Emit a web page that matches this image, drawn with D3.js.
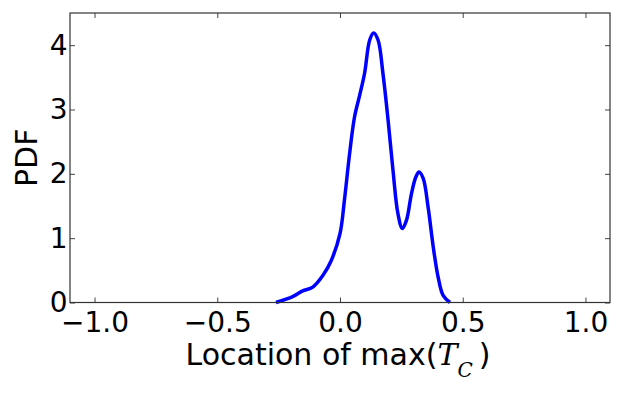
<!DOCTYPE html>
<html><head><meta charset="utf-8">
<script src="https://cdn.jsdelivr.net/npm/d3@7"></script>
<style>body{margin:0;background:#fff}</style>
</head><body>
<svg id="c" width="623" height="393"></svg>
<script>
const xs = [-0.261,-0.193,-0.152,-0.111,-0.070,-0.036,0.0,0.018,0.039,0.059,0.080,0.100,0.121,0.137,0.155,0.175,0.196,0.216,0.236,0.254,0.271,0.291,0.309,0.322,0.339,0.359,0.380,0.400,0.420,0.448];
const pdf = [0,0.09,0.18,0.24,0.42,0.65,1.07,1.59,2.31,2.88,3.22,3.56,4.08,4.19,4.08,3.56,2.83,2.05,1.38,1.15,1.28,1.69,1.95,2.03,1.93,1.48,0.86,0.39,0.11,0];
const xTicks = [-1.0,-0.5,0.0,0.5,1.0];
const yTicks = [0,1,2,3,4];

const svg = d3.select("#c");
const L=70, R=610, T=13, B=302.5;
const x = d3.scaleLinear().domain([-1.1,1.1]).range([L,R]);
const y = d3.scaleLinear().domain([0,4.5]).range([B,T]);
const font = "DejaVu Sans, sans-serif";
const fs = 28, lfs = 30;

const line = d3.line().x((d,i)=>x(xs[i])).y(d=>y(d)).curve(d3.curveCatmullRom.alpha(0.5));
svg.append("path").datum(pdf).attr("d",line).attr("fill","none")
  .attr("stroke","#0000ff").attr("stroke-width",3.5).attr("stroke-linejoin","round");

const fmt = v => (v<0?"\u2212":"") + Math.abs(v).toFixed(1);
const tl = 5;
const xa = svg.append("g").attr("transform",`translate(0,${B})`)
  .call(d3.axisBottom(x).tickValues(xTicks).tickSizeInner(-tl).tickSizeOuter(0).tickPadding(9.5).tickFormat(fmt));
const xt = svg.append("g").attr("transform",`translate(0,${T})`)
  .call(d3.axisTop(x).tickValues(xTicks).tickSizeInner(-tl).tickSizeOuter(0).tickFormat(""));
const ya = svg.append("g").attr("transform",`translate(${L},0)`)
  .call(d3.axisLeft(y).tickValues(yTicks).tickSizeInner(-tl).tickSizeOuter(0).tickPadding(2.5).tickFormat(d3.format("d")));
const yr = svg.append("g").attr("transform",`translate(${R},0)`)
  .call(d3.axisRight(y).tickValues(yTicks).tickSizeInner(-tl).tickSizeOuter(0).tickFormat(""));
[xa,xt,ya,yr].forEach(g=>{
  g.select(".domain").remove();
  g.selectAll("line").attr("stroke","#444").attr("stroke-width",1);
  g.selectAll("text").attr("font-family",font).attr("font-size",fs).attr("fill","#000");
});
xa.selectAll("text").attr("dy","0.71em");
svg.append("rect").attr("x",L).attr("y",T).attr("width",R-L).attr("height",B-T)
  .attr("fill","none").attr("stroke","#333").attr("stroke-width",1.2);

svg.append("text").attr("transform",`translate(37,${(T+B)/2}) rotate(-90)`)
  .attr("text-anchor","middle").attr("font-family",font).attr("font-size",lfs).text("PDF");
const xl = svg.append("text").attr("x",(L+R)/2-2).attr("y",365).attr("text-anchor","middle")
  .attr("font-family",font).attr("font-size",lfs);
xl.append("tspan").text("Location of max(");
xl.append("tspan").attr("font-family","DejaVu Serif, serif").attr("font-style","italic").text("T");
xl.append("tspan").attr("font-family","DejaVu Serif, serif").attr("font-style","italic").attr("font-size",20).attr("dy",12).text("C");
xl.append("tspan").attr("dy",-12).text("\u2009)");
</script>
</body></html>
